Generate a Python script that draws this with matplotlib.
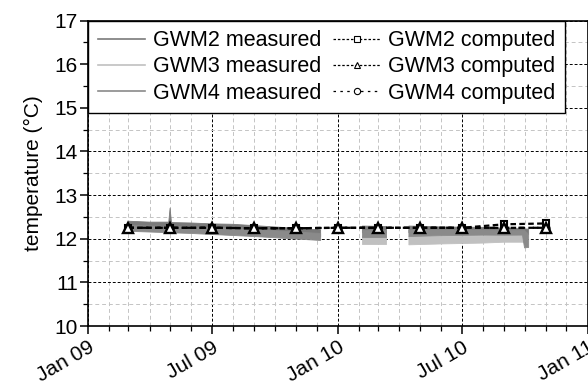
import numpy as np
import pandas as pd
import matplotlib
matplotlib.use("Agg")
import matplotlib.pyplot as plt
from matplotlib.lines import Line2D

plt.rcParams['font.family'] = ['Liberation Sans', 'DejaVu Sans']
plt.rcParams['font.size'] = 15

# measured data, given as lower/upper envelope of the noisy logger records
# (None = gap in the record)
gwm2_dates = ['2009-03-02', '2009-04-01', '2009-04-29', '2009-05-01', '2009-05-03',
              '2009-06-01', '2009-07-01', '2009-08-01', '2009-09-01', '2009-10-01',
              '2009-11-01', '2009-12-07', '2010-01-20',
              '2010-02-06', '2010-03-13', '2010-04-01',
              '2010-04-15', '2010-06-01', '2010-08-01', '2010-09-01', '2010-10-07']
gwm2_high = [12.40, 12.38, 12.38, 12.70, 12.37, 12.36, 12.34, 12.33, 12.30, 12.27,
             12.24, 12.20, None,
             12.29, 12.28, None,
             12.29, 12.27, 12.26, 12.24, 12.22]
gwm2_low = [12.24, 12.22, 12.22, 12.22, 12.21, 12.20, 12.18, 12.17, 12.14, 12.11,
            12.08, 12.04, None,
            12.14, 12.13, None,
            12.14, 12.13, 12.12, 12.11, 12.10]

gwm3_dates = ['2010-02-06', '2010-03-13', '2010-04-01',
              '2010-04-15', '2010-06-01', '2010-08-01', '2010-09-01', '2010-10-01']
gwm3_high = [12.06, 12.06, None, 12.05, 12.06, 12.06, 12.07, 12.06]
gwm3_low = [11.87, 11.87, None, 11.86, 11.88, 11.90, 11.92, 11.92]

gwm4_dates = ['2009-03-02', '2009-06-01', '2009-09-01', '2009-12-07', '2010-01-20',
              '2010-02-06', '2010-03-13', '2010-04-01',
              '2010-04-15', '2010-06-01', '2010-08-01', '2010-09-28', '2010-10-01',
              '2010-10-07']
gwm4_high = [12.30, 12.27, 12.21, 12.12, None,
             12.20, 12.20, None,
             12.20, 12.20, 12.20, 12.19, 12.19, 12.10]
gwm4_low = [12.17, 12.12, 12.05, 11.96, None,
            12.05, 12.05, None,
            12.05, 12.07, 12.08, 12.08, 11.79, 11.80]

# computed values (every second month)
comp_dates = ['2009-03-01', '2009-05-01', '2009-07-01', '2009-09-01', '2009-11-01',
              '2010-01-01', '2010-03-01', '2010-05-01', '2010-07-01', '2010-09-01',
              '2010-11-01']
gwm2_comp = [12.25, 12.25, 12.25, 12.24, 12.24, 12.25, 12.25, 12.25, 12.25, 12.33, 12.35]
gwm3_comp = [12.25, 12.25, 12.25, 12.24, 12.24, 12.25, 12.25, 12.25, 12.25, 12.25, 12.25]
gwm4_comp = [12.25, 12.25, 12.25, 12.24, 12.24, 12.25, 12.25, 12.25, 12.25, 12.25, 12.25]

xtick_dates = ['2009-01-01', '2009-07-01', '2010-01-01', '2010-07-01', '2011-01-01']
xtick_labels = ['Jan 09', 'Jul 09', 'Jan 10', 'Jul 10', 'Jan 11']

colors = {'GWM2': '#7a7a7a', 'GWM3': '#c0c0c0', 'GWM4': '#8a8a8a'}


def to_arr(vals):
    return np.array([np.nan if v is None else v for v in vals], dtype=float)


fig = plt.figure(figsize=(5.88, 3.85), dpi=100)
ax = fig.add_axes([88 / 588, 59 / 385, 499.5 / 588, 305.5 / 385])

# measured bands
for name, d, lo, hi, z in [('GWM2', gwm2_dates, gwm2_low, gwm2_high, 2),
                           ('GWM3', gwm3_dates, gwm3_low, gwm3_high, 3),
                           ('GWM4', gwm4_dates, gwm4_low, gwm4_high, 4)]:
    dd = pd.to_datetime(d)
    ax.fill_between(dd, to_arr(lo), to_arr(hi), color=colors[name],
                    linewidth=0.6, edgecolor=colors[name], zorder=z)

# computed series
cd = pd.to_datetime(comp_dates)
ax.plot(cd, gwm4_comp, color='black', linestyle=(0, (2.5, 4)), linewidth=1.6,
        marker='o', markersize=4.5, markerfacecolor='white', markeredgecolor='black',
        markeredgewidth=1.5, zorder=6)
ax.plot(cd, gwm2_comp, color='black', linestyle=(0, (2.5, 1.5)), linewidth=1.6,
        marker='s', markersize=5, markerfacecolor='white', markeredgecolor='black',
        markeredgewidth=1.5, zorder=7)
ax.plot(cd, gwm3_comp, color='black', linestyle=(0, (2.5, 1.5)), linewidth=1.6,
        marker='^', markersize=6.5, markerfacecolor='white', markeredgecolor='black',
        markeredgewidth=1.7, zorder=8)

# axes
ax.set_xlim(pd.Timestamp('2009-01-01'), pd.Timestamp('2011-01-01'))
ax.set_ylim(10, 17)
ax.set_yticks(range(10, 18))
ax.set_yticks(np.arange(10.5, 17, 1.0), minor=True)
ax.set_xticks(pd.to_datetime(xtick_dates))
ax.set_xticks(pd.date_range('2009-01-01', '2011-01-01', freq='MS'), minor=True)
ax.set_xticklabels(xtick_labels, rotation=30, ha='right', rotation_mode='anchor')

ax.tick_params(which='major', direction='out', length=5.8, width=1.1, pad=1.5)
ax.tick_params(which='minor', direction='out', length=3.6, width=0.9)
ax.tick_params(axis='x', which='major', pad=2.5)
for s in ax.spines.values():
    s.set_linewidth(1.2)

ax.grid(True, which='major', color='black', linestyle=(0, (3, 2)), linewidth=0.7)
ax.grid(True, which='minor', color='#c4c4c4', linestyle=(0, (4, 3)), linewidth=0.7)
ax.set_axisbelow(True)

ax.set_ylabel('temperature (°C)', labelpad=8)

handles = [
    Line2D([], [], color=colors['GWM2'], linewidth=1.2),
    Line2D([], [], color=colors['GWM3'], linewidth=1.2),
    Line2D([], [], color=colors['GWM4'], linewidth=1.2),
    Line2D([], [], color='black', linestyle=(0, (2, 1.5)), linewidth=0.9, marker='s',
           markersize=4.5, markerfacecolor='white', markeredgewidth=0.8),
    Line2D([], [], color='black', linestyle=(0, (2, 1.5)), linewidth=0.9, marker='^',
           markersize=5, markerfacecolor='white', markeredgewidth=0.8),
    Line2D([], [], color='black', linestyle=(0, (2, 3.5)), linewidth=0.9, marker='o',
           markersize=4.5, markerfacecolor='white', markeredgewidth=0.8),
]
labels = ['GWM2 measured', 'GWM3 measured', 'GWM4 measured',
          'GWM2 computed', 'GWM3 computed', 'GWM4 computed']
leg = ax.legend(handles, labels, ncol=2, loc='upper left', borderaxespad=0,
                fancybox=False, framealpha=1, edgecolor='black', handlelength=2.2,
                handletextpad=0.36, columnspacing=0.55, labelspacing=0.24,
                borderpad=0.45, fontsize=15.5)
leg.get_frame().set_linewidth(1.0)
leg.set_zorder(20)

fig.savefig('out.png', dpi=100)
